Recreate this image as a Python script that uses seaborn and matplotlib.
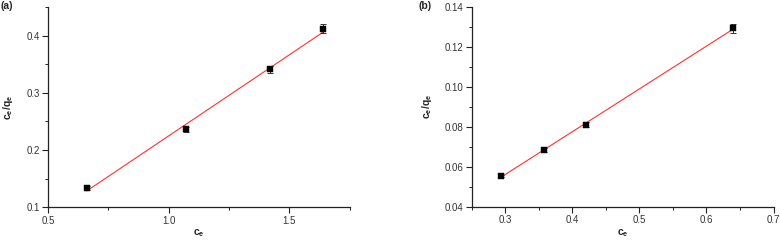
import numpy as np
import pandas as pd
import matplotlib
matplotlib.use("Agg")
import matplotlib.pyplot as plt
import seaborn as sns
from matplotlib.ticker import MultipleLocator

# ---- data ----
ce_a = [0.66, 1.07, 1.42, 1.64]
ratio_a = [0.134, 0.236, 0.341, 0.412]
err_a = [0.003, 0.004, 0.006, 0.008]

ce_b = [0.293, 0.358, 0.420, 0.640]
ratio_b = [0.0553, 0.0685, 0.0810, 0.1292]
err_b = [0.0006, 0.0009, 0.0012, 0.0024]

sns.set_style("ticks")
plt.rcParams['font.family'] = ['Liberation Sans', 'DejaVu Sans']
plt.rcParams['mathtext.fontset'] = 'custom'
plt.rcParams['mathtext.rm'] = 'Liberation Sans'
plt.rcParams['mathtext.bf'] = 'Liberation Sans:bold'
plt.rcParams['mathtext.default'] = 'bf'

fig = plt.figure(figsize=(7.8, 2.41), dpi=100)
ax_a = fig.add_axes([0.0615, 0.140, 0.387, 0.831])
ax_b = fig.add_axes([0.605, 0.142, 0.3867, 0.830])

def panel(ax, x, y, e, xlim, ylim, xmaj, ymaj, yfmt):
    df = pd.DataFrame({"ce": x, "r": y})
    sns.regplot(data=df, x="ce", y="r", ax=ax, ci=None, scatter=False,
                line_kws=dict(color="#ff3030", lw=0.8))
    ax.errorbar(x, y, yerr=e, fmt="none", ecolor="#333333", elinewidth=0.7,
                capsize=2.2, capthick=0.7, zorder=3)
    sns.scatterplot(data=df, x="ce", y="r", ax=ax, marker="s", s=22,
                    color="black", edgecolor="black", linewidth=0.3, zorder=4)
    ax.set_xlim(*xlim)
    ax.set_ylim(*ylim)
    ax.xaxis.set_major_locator(MultipleLocator(xmaj))
    ax.xaxis.set_minor_locator(MultipleLocator(xmaj / 2))
    ax.yaxis.set_major_locator(MultipleLocator(ymaj))
    ax.yaxis.set_minor_locator(MultipleLocator(ymaj / 2))
    ax.yaxis.set_major_formatter(plt.FormatStrFormatter(yfmt))
    ax.xaxis.set_major_formatter(plt.FormatStrFormatter("%.1f"))
    for s in ("top", "right"):
        ax.spines[s].set_visible(False)
    for s in ("left", "bottom"):
        ax.spines[s].set_linewidth(0.9)
        ax.spines[s].set_color("#222222")
    ax.tick_params(which="major", direction="out", length=4, width=0.8,
                   labelsize=7, colors="#222222", labelcolor="#333333", pad=2)
    ax.tick_params(which="minor", direction="out", length=2.5, width=0.7,
                   colors="#222222")
    ax.set_xlabel("$c_e$", fontsize=7.5, labelpad=1.5)
    ax.set_ylabel("$c_e/q_e$", fontsize=7.5, labelpad=8)

panel(ax_a, ce_a, ratio_a, err_a, (0.5, 1.75), (0.1, 0.45), 0.5, 0.1, "%.1f")
panel(ax_b, ce_b, ratio_b, err_b, (0.25, 0.70), (0.04, 0.14), 0.1, 0.02, "%.2f")

fig.text(0.001, 0.995, "(a)", fontsize=7.5, fontweight="bold", va="top", ha="left")
fig.text(0.536, 0.995, "(b)", fontsize=7.5, fontweight="bold", va="top", ha="left")

fig.savefig("out.png", dpi=100)
